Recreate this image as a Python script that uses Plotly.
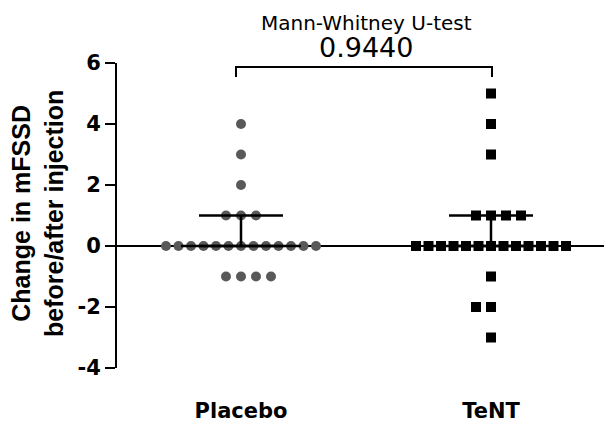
import numpy as np
import plotly.graph_objects as go

# ---- data ----
groups = ["Placebo", "TeNT"]
placebo_values = [4, 3, 2, 1, 1, 1] + [0] * 13 + [-1, -1, -1, -1]
tent_values = [5, 4, 3, 1, 1, 1, 1] + [0] * 13 + [-1, -2, -2, -3]
test_name = "Mann-Whitney U-test"
p_value = "0.9440"
y_ticks = [-4, -2, 0, 2, 4, 6]
y_title = "Change in mFSSD<br>before/after injection"

series = [placebo_values, tent_values]
colors = ["#595959", "#000000"]
symbols = ["circle", "square"]

# ---- geometry (figure is offset 8 px by the page body margin) ----
FIG_W, FIG_H = 604, 415
ML, MR, MT, MB = 109, 0, 55, 55
PW, PH = FIG_W - ML - MR, FIG_H - MT - MB
OFF = 8


def px(sx):
    return (sx - OFF - ML) / PW


def py(sy):
    return (FIG_H - (sy - OFF) - MB) / PH


PX_PER_UNIT = 250.0   # horizontal pixels per category unit
STEP = 15.0 / PX_PER_UNIT


def swarm_offsets(vals):
    vals = np.asarray(vals)
    offs = np.zeros(len(vals))
    for v in np.unique(vals):
        idx = np.where(vals == v)[0]
        n = len(idx)
        if n <= 11:
            slots = [0]
            k = 1
            while len(slots) < n:
                slots.append(-k if k % 2 == 1 else k)
                if len(slots) < n:
                    slots.append(k if k % 2 == 1 else -k)
                k += 1
            o = np.array(slots[:n]) * STEP
        else:
            o = np.linspace(-5 * STEP, 5 * STEP, n)
        offs[idx] = o
    return offs


fig = go.Figure()

# zero axis line across the plot
fig.add_shape(type="line", xref="paper", x0=0, x1=1, yref="y", y0=0, y1=0,
              line=dict(color="black", width=2), layer="below")

for i, (vals, c, s) in enumerate(zip(series, colors, symbols)):
    xc = i + 1
    xs = xc + swarm_offsets(vals)
    fig.add_trace(go.Scatter(
        x=xs, y=vals, mode="markers",
        marker=dict(color=c, symbol=s, size=10, line=dict(width=0)),
        showlegend=False, cliponaxis=False))
    q1, med, q3 = np.percentile(vals, [25, 50, 75], method="weibull")
    cap = 42.0 / PX_PER_UNIT
    mw = 60.0 / PX_PER_UNIT
    fig.add_trace(go.Scatter(x=[xc, xc], y=[q1, q3], mode="lines",
                             line=dict(color="black", width=2.5), showlegend=False))
    for q in (q1, q3):
        fig.add_trace(go.Scatter(x=[xc - cap, xc + cap], y=[q, q], mode="lines",
                                 line=dict(color="black", width=2.5), showlegend=False))
    fig.add_trace(go.Scatter(x=[xc - mw, xc + mw], y=[med, med], mode="lines",
                             line=dict(color="black", width=2.5), showlegend=False))

# significance bracket
fig.add_shape(type="path", xref="x", yref="y",
              path="M 0.98,5.54 L 0.98,5.87 L 2.004,5.87 L 2.004,5.54",
              line=dict(color="black", width=2))

font_family = "DejaVu Sans, Arial, sans-serif"
title_family = "Liberation Sans, Arial, sans-serif"

fig.add_annotation(x=px(366), y=py(23), xref="paper", yref="paper",
                   xanchor="center", yanchor="middle",
                   text=test_name, showarrow=False,
                   font=dict(family=font_family, size=20, color="black"))
fig.add_annotation(x=px(366), y=py(47), xref="paper", yref="paper",
                   xanchor="center", yanchor="middle",
                   text=p_value, showarrow=False,
                   font=dict(family=font_family, size=27, color="black"))
fig.add_annotation(x=px(38), y=py(214), xref="paper", yref="paper",
                   xanchor="center", yanchor="middle",
                   text="<b>" + y_title + "</b>",
                   textangle=-90, showarrow=False,
                   font=dict(family=title_family, size=25, color="black"))

fig.update_layout(
    width=FIG_W, height=FIG_H,
    margin=dict(l=ML, r=MR, t=MT, b=MB),
    paper_bgcolor="white", plot_bgcolor="white",
    font=dict(family=font_family, color="black"),
    xaxis=dict(range=[0.504, 2.484], tickvals=[1, 2], ticktext=groups,
               showline=False, showgrid=False, zeroline=False, ticks="",
               tickfont=dict(family=font_family, size=21, color="black", weight="bold"),
               ticklabelstandoff=28),
    yaxis=dict(range=[-4, 6], tickvals=y_ticks, ticktext=[str(v) for v in y_ticks],
               showgrid=False, zeroline=False,
               showline=True, linecolor="black", linewidth=2,
               ticks="outside", ticklen=10, tickwidth=2, tickcolor="black",
               tickfont=dict(family=font_family, size=21, color="black", weight="bold")),
)

fig.write_html("out.html")
